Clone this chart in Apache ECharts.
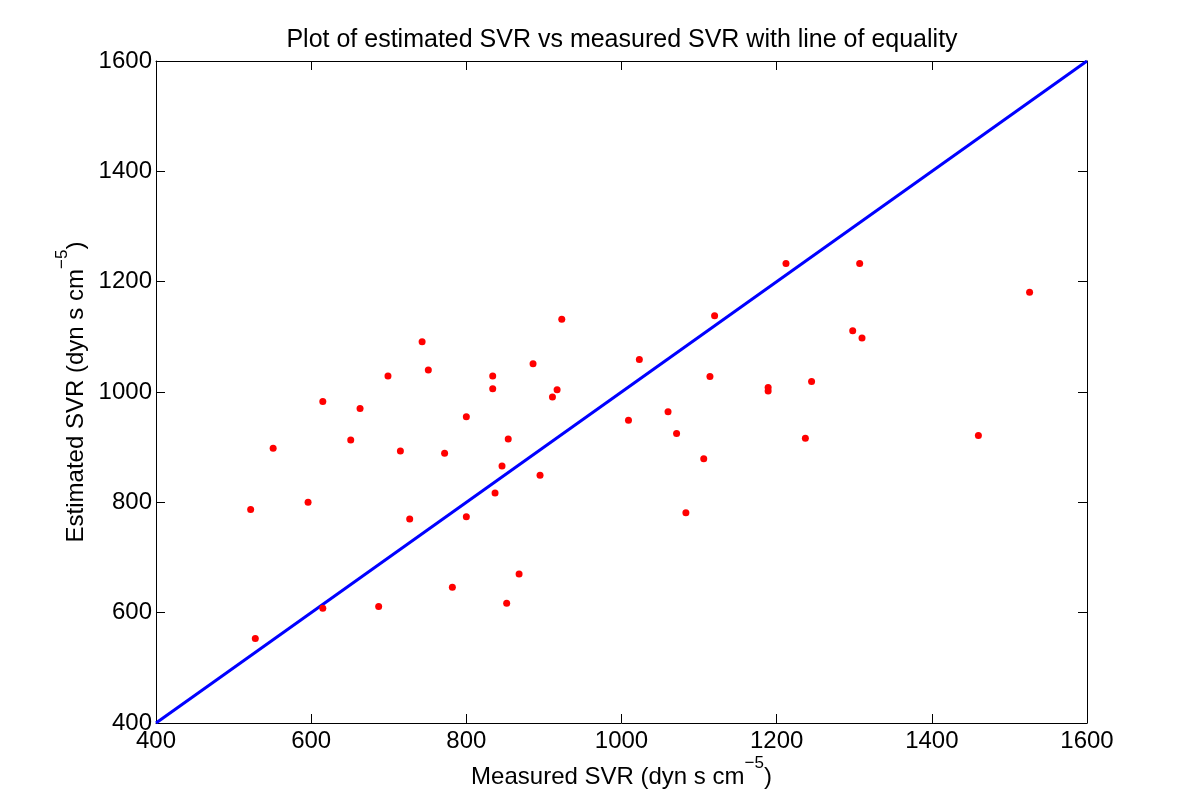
<!DOCTYPE html>
<html>
<head>
<meta charset="utf-8">
<script src="https://cdn.jsdelivr.net/npm/echarts@6/dist/echarts.min.js"></script>
<style>
html,body{margin:0;padding:0;background:#fff;}
#chart{width:1200px;height:811px;}
</style>
</head>
<body>
<div id="chart"></div>
<script>
// Measured SVR (x) and estimated SVR (y) for each subject
const measuredSVR = [743, 751, 699, 834, 834, 615, 663, 800, 651, 551, 715, 772, 846, 522, 596, 837,
  727, 800, 782, 615, 687, 528, 923, 1120, 886, 1023, 917, 911, 1114, 1189, 1189, 1060,
  1009, 1071, 854, 1106, 895, 1083, 868, 852, 1212, 1307, 1526, 1298, 1310, 1245, 1237, 1460];
const estimatedSVR = [1091, 1040, 1029, 1029, 1006, 983, 970, 955, 913, 898, 893, 889, 866, 787, 800, 817,
  770, 774, 646, 608, 611, 553, 1132, 1138, 1051, 1059, 1004, 991, 1028, 1008, 1002, 964,
  949, 925, 915, 879, 849, 781, 670, 617, 1233, 1233, 1181, 1111, 1098, 1019, 916, 921];
const equalityLine = [[400, 400], [1600, 1600]];
const axisMin = 400, axisMax = 1600, axisStep = 200;
const titleText = 'Plot of estimated SVR vs measured SVR with line of equality';
const xName = '{m|Measured SVR (dyn s cm}{sup|\u22125}{m|)}';
const yName = '{m|Estimated SVR (dyn s cm}{sup|\u22125}{m|)}';

const FONT = 'Liberation Sans';
const points = measuredSVR.map((x, i) => [x, estimatedSVR[i]]);

const chart = echarts.init(document.getElementById('chart'), null, {renderer: 'canvas'});
const baseAxis = {
  min: axisMin, max: axisMax, interval: axisStep,
  axisLine: {show: true, onZero: false, lineStyle: {color: '#000', width: 1}},
  axisTick: {show: true, inside: true, length: 9, lineStyle: {color: '#000', width: 1}},
  splitLine: {show: false},
};
const nameRich = {
  m: {fontSize: 24, fontFamily: FONT, color: '#000', lineHeight: 24, verticalAlign: 'bottom'},
  sup: {fontSize: 17, fontFamily: FONT, color: '#000', lineHeight: 34, verticalAlign: 'top', padding: [0, 0, 17, 0]}
};
const tickLabel = v => String(v);
chart.setOption({
  backgroundColor: '#fff',
  animation: false,
  title: {
    text: titleText, left: 617, top: 23, textAlign: 'center',
    textStyle: {fontFamily: FONT, fontSize: 25, fontWeight: 'normal', color: '#000'}
  },
  grid: {left: 156, right: 113, top: 61, bottom: 88},
  xAxis: [
    Object.assign({}, baseAxis, {
      type: 'value', position: 'bottom',
      axisLabel: {margin: 6, fontFamily: FONT, fontSize: 24, color: '#000', formatter: tickLabel},
      name: xName, nameLocation: 'middle', nameGap: 32, nameMoveOverlap: false,
      nameTextStyle: {fontFamily: FONT, fontSize: 24, color: '#000', rich: nameRich}
    }),
    Object.assign({}, baseAxis, {type: 'value', position: 'top', axisLabel: {show: false}})
  ],
  yAxis: [
    Object.assign({}, baseAxis, {
      type: 'value', position: 'left',
      axisLabel: {margin: 4, fontFamily: FONT, fontSize: 24, color: '#000', formatter: tickLabel},
      name: yName, nameLocation: 'middle', nameGap: 68, nameRotate: 90, nameMoveOverlap: false,
      nameTextStyle: {fontFamily: FONT, fontSize: 24, color: '#000', rich: nameRich}
    }),
    Object.assign({}, baseAxis, {type: 'value', position: 'right', axisLabel: {show: false}})
  ],
  series: [
    {
      type: 'line', data: equalityLine, xAxisIndex: 0, yAxisIndex: 0,
      symbol: 'none', lineStyle: {color: '#0000ff', width: 3}, z: 2
    },
    {
      type: 'scatter', data: points, xAxisIndex: 0, yAxisIndex: 0,
      symbol: 'circle', symbolSize: 7, itemStyle: {color: '#ff0000', opacity: 1}, z: 3
    }
  ]
});
</script>
</body>
</html>
